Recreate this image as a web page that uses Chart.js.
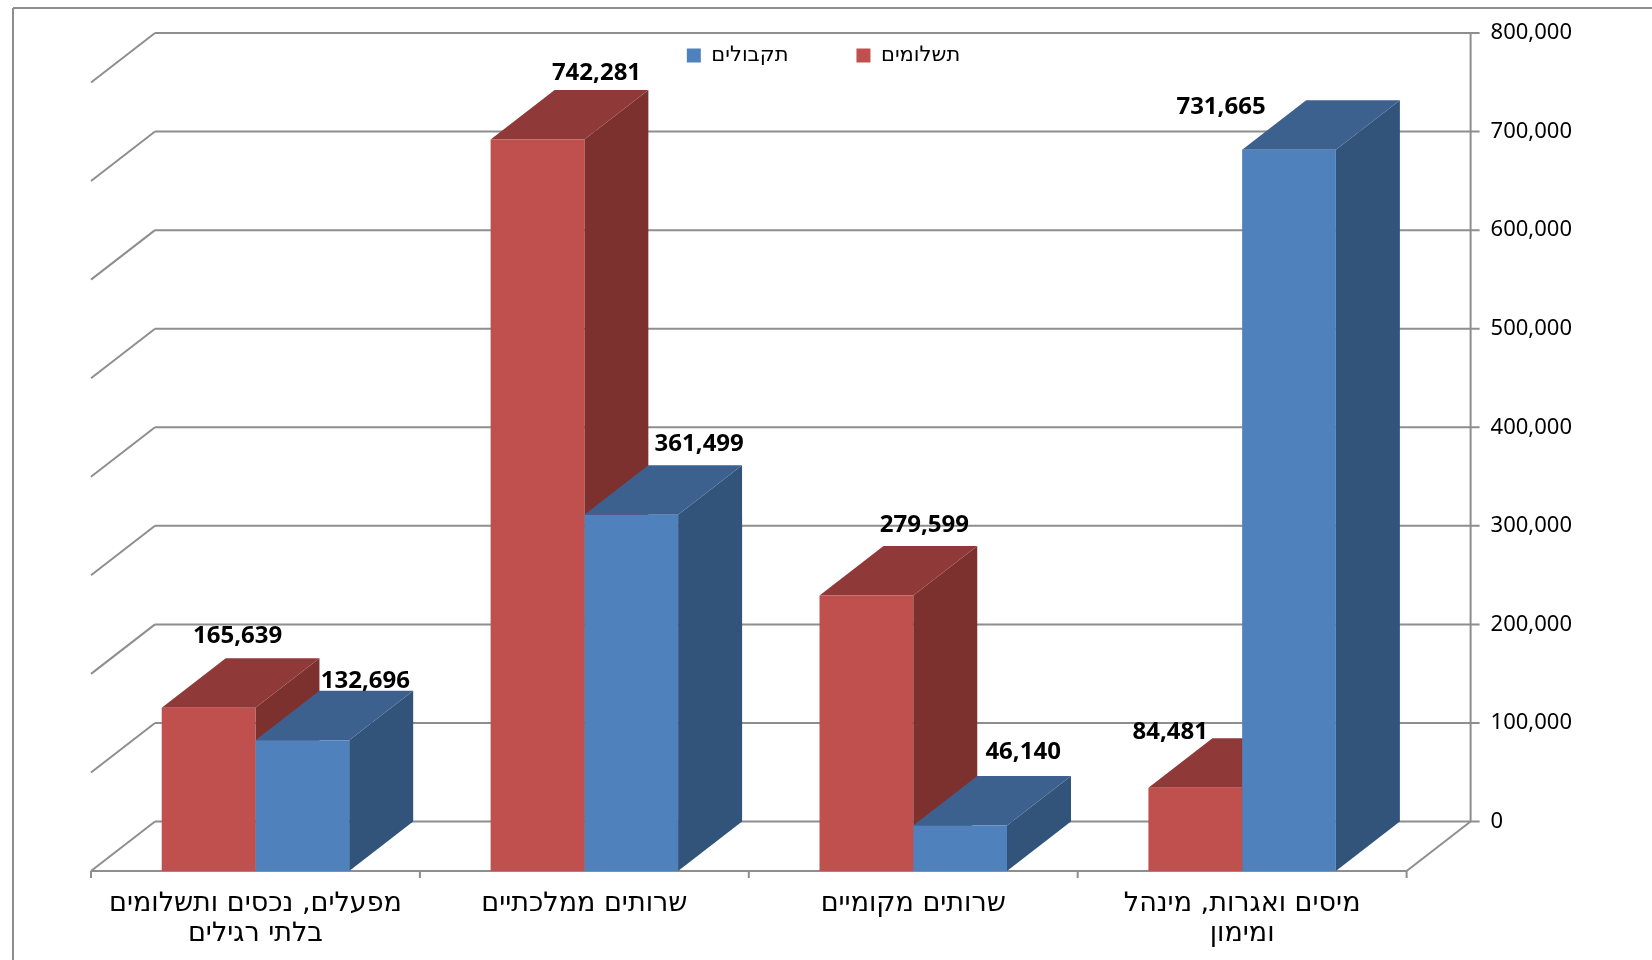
<!DOCTYPE html>
<html lang="he">
<head>
<meta charset="utf-8">
<title>תשלומים ותקבולים</title>
<script src="https://cdn.jsdelivr.net/npm/chart.js@4"></script>
<style>
  html, body { margin: 0; background: #fff; }
  canvas { display: block; }
</style>
</head>
<body>
<canvas id="myChart" width="1652" height="960"></canvas>
<script>
'use strict';

const categories = [
  ['מפעלים, נכסים ותשלומים', 'בלתי רגילים'],
  'שרותים ממלכתיים',
  'שרותים מקומיים',
  ['מיסים ואגרות, מינהל', 'ומימון'],
];
const seriesNames = ['תשלומים', 'תקבולים'];
const payments = [165639, 742281, 279599, 84481];
const receipts = [132696, 361499, 46140, 731665];
const valueTicks = [0, 100000, 200000, 300000, 400000, 500000, 600000, 700000, 800000];

// 3d look
const depthX = 64;
const depthY = 49.5;
const faces = [
  { front: '#c0504d', side: '#7d312f', top: '#8f3a38' },
  { front: '#4f81bd', side: '#32547a', top: '#3d618f' },
];
const lineColor = '#8e8e8e';
const FONT = '"DejaVu Sans", sans-serif';
const NUM_FONT = '"Noto Sans", "DejaVu Sans", sans-serif';
const legendGap = 68;

// the value labels were placed by hand in the original
const labelShift = [
  [[-35, -6], [-5, -1], [-6, -5], [-89, 10]],
  [[-1, 6], [4, -5], [-1, -8], [-132, 23]],
];

function face(ctx, color, pts) {
  ctx.fillStyle = color;
  ctx.beginPath();
  pts.forEach((p, i) => (i ? ctx.lineTo(p[0], p[1]) : ctx.moveTo(p[0], p[1])));
  ctx.closePath();
  ctx.fill();
}

function line(ctx, x1, y1, x2, y2) {
  ctx.beginPath();
  ctx.moveTo(x1, y1);
  ctx.lineTo(x2, y2);
  ctx.stroke();
}

const chart3d = {
  id: 'chart3d',
  afterLayout(chart) {
    // legend sits inside the plot, not above it
    const legend = chart.legend;
    legend.top = 45 - legendGap;
    legend.bottom = legend.top + 2 * legendGap + 30; // the legend clips to this box
    legend.left -= 46;
    legend.right -= 46;
  },
  beforeDatasetsDraw(chart) {
    const ctx = chart.ctx;
    const area = chart.chartArea;
    const yS = chart.scales.y;
    const xS = chart.scales.x;
    const front = yS.getPixelForValue(0) + depthY;
    const backLeft = area.left + depthX;
    const backRight = area.right + depthX;

    ctx.save();
    ctx.strokeStyle = lineColor;
    ctx.lineWidth = 2;

    // outer frame of the picture
    line(ctx, 13, 8, 1652, 8);
    line(ctx, 13, 8, 13, 960);

    valueTicks.forEach((v) => {
      const y = yS.getPixelForValue(v);
      line(ctx, backLeft, y, backRight + 9, y);
      line(ctx, backLeft, y, area.left, y + depthY);
    });
    line(ctx, backRight, yS.getPixelForValue(800000), backRight, yS.getPixelForValue(0));
    line(ctx, backRight, yS.getPixelForValue(0), area.right, front);
    line(ctx, area.left, front, area.right, front);
    const step = (area.right - area.left) / categories.length;
    for (let i = 0; i <= categories.length; i++) {
      const x = i < categories.length ? xS.getPixelForTick(i) - step / 2 : area.right;
      line(ctx, x, front, x, front + 7);
    }

    // side and top of every bar, the fronts come from the library afterwards
    for (let i = 0; i < categories.length; i++) {
      chart.data.datasets.forEach((ds, d) => {
        const bar = chart.getDatasetMeta(d).data[i];
        const l = bar.x - bar.width / 2;
        const r = bar.x + bar.width / 2;
        const t = bar.y + depthY;
        const b = bar.base + depthY;
        face(ctx, faces[d].side, [[r, t], [r + depthX, t - depthY], [r + depthX, b - depthY], [r, b]]);
        face(ctx, faces[d].top, [[l, t], [l + depthX, t - depthY], [r + depthX, t - depthY], [r, t]]);
      });
    }
    ctx.restore();

    // native bars are drawn on the front plane
    ctx.save();
    ctx.translate(0, depthY);
  },
  afterDatasetsDraw(chart) {
    const ctx = chart.ctx;
    ctx.restore();

    ctx.save();
    ctx.fillStyle = '#000';
    ctx.font = 'bold 24px ' + NUM_FONT;
    ctx.textAlign = 'center';
    ctx.textBaseline = 'bottom';
    chart.data.datasets.forEach((ds, d) => {
      chart.getDatasetMeta(d).data.forEach((bar, i) => {
        const x = bar.x + depthX + labelShift[d][i][0];
        const y = bar.y - 4 + labelShift[d][i][1];
        ctx.fillText(ds.data[i].toLocaleString('en-US'), x, y);
      });
    });
    ctx.restore();
  },
};

new Chart(document.getElementById('myChart').getContext('2d'), {
  type: 'bar',
  plugins: [chart3d],
  data: {
    labels: categories,
    datasets: [
      { label: seriesNames[0], data: payments, backgroundColor: faces[0].front, clip: false },
      { label: seriesNames[1], data: receipts, backgroundColor: faces[1].front, clip: false },
    ],
  },
  options: {
    responsive: false,
    animation: false,
    devicePixelRatio: 1,
    layout: { padding: { left: 91, right: 4, top: 3, bottom: -48 } },
    datasets: { bar: { categoryPercentage: 0.57, barPercentage: 1 } },
    scales: {
      x: {
        grid: { display: false },
        border: { display: false },
        ticks: {
          padding: 59,
          maxRotation: 0,
          color: '#000',
          font: { family: FONT, size: 27, lineHeight: 1.12 },
        },
      },
      y: {
        position: 'right',
        min: 0,
        max: 800000,
        afterBuildTicks(axis) {
          axis.ticks = valueTicks.map((v) => ({ value: v }));
        },
        // tick padding is only wanted sideways
        afterFit(axis) {
          axis.paddingTop = 0;
          axis.paddingBottom = 0;
        },
        grid: { display: false },
        border: { display: false },
        ticks: {
          padding: 76,
          color: '#000',
          font: { family: NUM_FONT, size: 22 },
          callback: (v) => v.toLocaleString('en-US'),
        },
      },
    },
    plugins: {
      tooltip: { enabled: false },
      legend: {
        position: 'top',
        reverse: true,
        maxHeight: 30,
        labels: {
          boxWidth: 14,
          boxHeight: 14,
          padding: legendGap,
          color: '#000',
          font: { family: FONT, size: 21 },
        },
      },
    },
  },
});
</script>
</body>
</html>
